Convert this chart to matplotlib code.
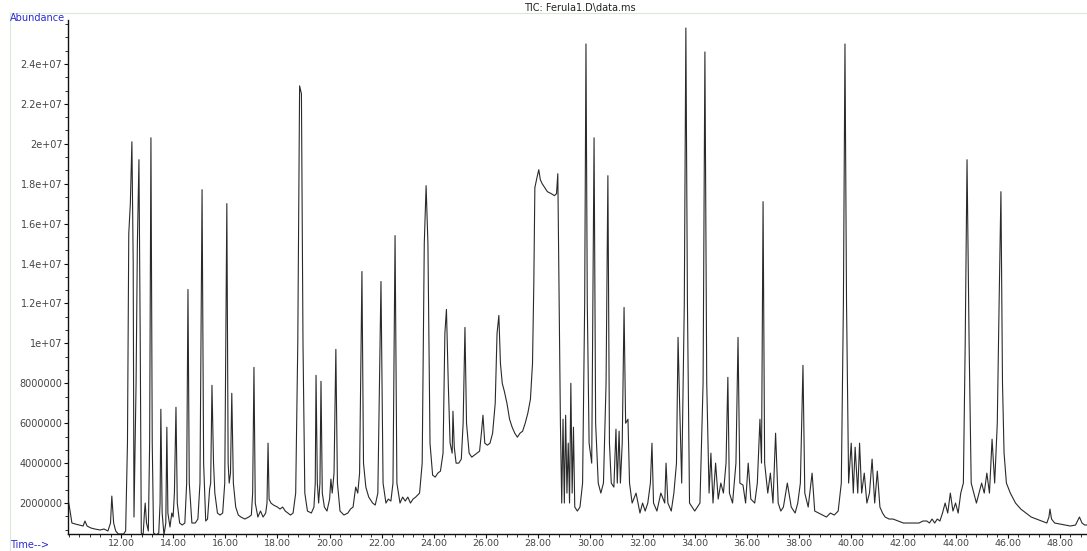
import matplotlib
matplotlib.use("Agg")
import matplotlib.pyplot as plt
from matplotlib.ticker import MultipleLocator, FuncFormatter, AutoMinorLocator
from matplotlib.lines import Line2D

# retention time (min) and abundance (millions)
time_min = [
    9.97, 10.05, 10.12, 10.25, 10.40, 10.55, 10.62, 10.70, 10.85, 11.00, 11.20, 11.35, 11.50, 11.60, 11.65, 11.72, 11.80, 11.90, 12.10, 12.18,
    12.25, 12.30, 12.36, 12.42, 12.47, 12.50, 12.58, 12.63, 12.69, 12.74, 12.78, 12.85, 12.90, 12.93, 12.98, 13.05, 13.10, 13.15, 13.20, 13.25,
    13.35, 13.45, 13.50, 13.53, 13.58, 13.65, 13.72, 13.76, 13.80, 13.88, 13.95, 14.00, 14.05, 14.11, 14.16, 14.25, 14.35, 14.45, 14.52, 14.57,
    14.62, 14.72, 14.85, 14.95, 15.03, 15.11, 15.17, 15.25, 15.32, 15.40, 15.44, 15.49, 15.55, 15.60, 15.70, 15.80, 15.90, 15.98, 16.06, 16.11,
    16.15, 16.20, 16.25, 16.31, 16.40, 16.50, 16.60, 16.75, 16.90, 17.00, 17.05, 17.10, 17.15, 17.25, 17.35, 17.45, 17.55, 17.60, 17.64, 17.68,
    17.75, 17.85, 18.00, 18.10, 18.20, 18.30, 18.40, 18.50, 18.60, 18.70, 18.78, 18.85, 18.92, 18.98, 19.05, 19.15, 19.30, 19.40, 19.45, 19.48,
    19.53, 19.58, 19.63, 19.67, 19.72, 19.80, 19.90, 20.00, 20.05, 20.10, 20.17, 20.24, 20.30, 20.40, 20.55, 20.70, 20.80, 20.90, 21.00, 21.08,
    21.15, 21.24, 21.30, 21.39, 21.50, 21.65, 21.75, 21.85, 21.97, 22.05, 22.16, 22.25, 22.35, 22.43, 22.51, 22.58, 22.70, 22.80, 22.90, 23.00,
    23.10, 23.20, 23.30, 23.45, 23.55, 23.63, 23.70, 23.77, 23.85, 23.95, 24.05, 24.15, 24.25, 24.35, 24.42, 24.48, 24.55, 24.62, 24.70, 24.73,
    24.78, 24.85, 24.95, 25.05, 25.12, 25.19, 25.25, 25.35, 25.45, 25.55, 25.65, 25.75, 25.82, 25.88, 25.95, 26.05, 26.15, 26.25, 26.35, 26.42,
    26.49, 26.55, 26.62, 26.70, 26.80, 26.90, 27.00, 27.10, 27.20, 27.30, 27.40, 27.50, 27.60, 27.70, 27.78, 27.83, 27.87, 27.95, 28.02, 28.08,
    28.15, 28.25, 28.35, 28.50, 28.62, 28.70, 28.75, 28.80, 28.85,
    28.90, 28.95, 29.00, 29.05, 29.10, 29.15, 29.20, 29.25, 29.30, 29.35, 29.40, 29.50, 29.60, 29.70, 29.78, 29.83, 29.88, 29.95, 30.05, 30.14,
    30.20, 30.30, 30.40, 30.50, 30.60, 30.67, 30.73, 30.80, 30.90, 30.98, 31.03, 31.10, 31.15, 31.22, 31.29, 31.35, 31.44, 31.50, 31.60, 31.75,
    31.90, 32.00, 32.10, 32.20, 32.30, 32.36, 32.42, 32.55, 32.70, 32.85, 32.90, 32.97, 33.10, 33.20, 33.30, 33.36, 33.42, 33.50, 33.60, 33.66,
    33.72, 33.80, 33.90, 34.00, 34.10, 34.20, 34.32, 34.39, 34.46, 34.55, 34.62, 34.70, 34.80, 34.90, 35.00, 35.10, 35.20, 35.27, 35.33, 35.45,
    35.58, 35.66, 35.73, 35.85, 35.95, 36.05, 36.15, 36.30, 36.40, 36.50, 36.56, 36.62, 36.68, 36.80, 36.90, 37.00, 37.10, 37.20, 37.30, 37.40,
    37.55, 37.70, 37.85, 37.95, 38.05, 38.15, 38.22, 38.35, 38.50, 38.60, 38.75, 38.90, 39.05, 39.20, 39.35, 39.50, 39.62, 39.70, 39.76, 39.82,
    39.90, 40.00, 40.08, 40.15, 40.25, 40.32, 40.40, 40.50, 40.60, 40.70, 40.80, 40.90, 41.00, 41.10, 41.20, 41.30, 41.45, 41.60, 41.80, 42.00,
    42.20, 42.40, 42.60, 42.75, 42.90, 43.00, 43.10, 43.20, 43.30, 43.40, 43.50, 43.60, 43.70, 43.80, 43.90, 44.00, 44.10, 44.20, 44.30, 44.37,
    44.44, 44.52, 44.60, 44.70, 44.80, 44.90, 45.00, 45.10, 45.20, 45.30, 45.40, 45.50, 45.60, 45.67, 45.74, 45.80, 45.86, 45.95, 46.10, 46.30,
    46.50, 46.70, 46.90, 47.10, 47.30, 47.50, 47.58, 47.62, 47.68, 47.80, 48.00, 48.20, 48.40, 48.60, 48.75, 48.85, 48.95, 49.04,
]
abundance_m = [
    2.20, 1.60, 1.00, 0.95, 0.90, 0.85, 1.10, 0.85, 0.75, 0.70, 0.65, 0.70, 0.60, 1.00, 2.35, 1.00, 0.60, 0.45, 0.45, 0.60,
    5.00, 15.5, 17.0, 20.1, 14.0, 1.30, 8.00, 15.0, 19.2, 10.0, 0.50, 0.40, 1.50, 2.00, 1.00, 0.60, 5.00, 20.3, 5.00, 0.50,
    0.40, 0.50, 2.00, 6.70, 1.50, 0.40, 1.00, 5.80, 1.50, 0.80, 1.50, 1.30, 2.50, 6.80, 2.00, 1.00, 0.90, 1.00, 3.00, 12.7,
    3.00, 1.00, 1.00, 1.20, 3.00, 17.7, 4.00, 1.10, 1.20, 2.70, 3.00, 7.90, 4.00, 2.50, 1.50, 1.40, 1.50, 3.00, 17.0, 4.00,
    3.00, 3.50, 7.50, 3.00, 1.80, 1.40, 1.30, 1.20, 1.30, 1.40, 2.50, 8.80, 2.00, 1.30, 1.60, 1.30, 1.50, 2.00, 5.00, 2.20,
    2.00, 1.90, 1.80, 1.70, 1.80, 1.60, 1.50, 1.40, 1.50, 2.50, 10.0, 22.9, 22.5, 10.0, 2.50, 1.60, 1.50, 1.80, 3.00, 8.40,
    3.00, 2.00, 3.00, 8.10, 2.50, 1.80, 1.60, 2.20, 3.20, 2.50, 3.50, 9.70, 3.00, 1.60, 1.40, 1.50, 1.70, 1.80, 2.80, 2.50,
    3.50, 13.6, 4.00, 2.80, 2.30, 2.00, 1.90, 2.50, 13.1, 3.00, 2.00, 2.20, 2.10, 3.00, 15.4, 3.00, 2.00, 2.30, 2.10, 2.30,
    2.00, 2.20, 2.30, 2.50, 4.00, 15.0, 17.9, 15.0, 5.00, 3.40, 3.30, 3.50, 3.60, 4.50, 10.5, 11.7, 8.00, 5.00, 4.50, 6.60,
    4.80, 4.00, 4.00, 4.20, 6.00, 10.8, 6.00, 4.50, 4.30, 4.40, 4.50, 4.60, 5.50, 6.40, 5.00, 4.90, 5.00, 5.50, 7.00, 10.5,
    11.4, 9.00, 8.00, 7.60, 7.00, 6.20, 5.80, 5.50, 5.30, 5.50, 5.60, 6.00, 6.50, 7.20, 9.00, 13.0, 17.8, 18.3, 18.7, 18.2,
    18.0, 17.8, 17.6, 17.5, 17.4, 17.5, 18.5, 12.0, 6.00,
    2.00, 6.20, 2.00, 6.40, 2.50, 5.00, 2.00, 8.00, 2.50, 5.80, 1.80, 1.60, 1.80, 3.00, 12.0, 25.0, 12.0, 5.00, 4.00, 20.3,
    6.00, 3.00, 2.50, 3.00, 8.00, 18.4, 5.00, 3.00, 2.80, 5.70, 3.00, 5.60, 3.00, 5.00, 11.8, 6.00, 6.20, 3.00, 2.00, 2.50,
    1.50, 2.00, 1.60, 2.00, 3.00, 5.00, 2.00, 1.60, 2.50, 2.00, 4.00, 2.00, 1.60, 2.50, 4.00, 10.3, 7.00, 3.00, 12.0, 25.8,
    12.0, 2.00, 1.80, 1.60, 1.80, 2.00, 8.00, 24.6, 8.00, 2.50, 4.50, 2.00, 4.00, 2.20, 3.00, 2.50, 4.00, 8.30, 2.50, 2.00,
    4.00, 10.3, 3.00, 2.90, 2.00, 4.00, 2.20, 2.00, 3.00, 6.20, 4.00, 17.1, 4.00, 2.50, 3.50, 2.00, 5.50, 2.00, 1.60, 1.80,
    3.00, 1.80, 1.50, 2.00, 3.00, 8.90, 2.50, 1.80, 3.50, 1.60, 1.50, 1.40, 1.30, 1.50, 1.40, 1.60, 3.00, 12.0, 25.0, 12.0,
    3.00, 5.00, 2.50, 4.80, 2.50, 5.00, 2.50, 3.50, 2.00, 2.50, 4.20, 2.00, 3.60, 1.80, 1.50, 1.30, 1.20, 1.20, 1.10, 1.00,
    1.00, 1.00, 1.00, 1.10, 1.10, 1.00, 1.20, 1.00, 1.20, 1.10, 1.50, 2.00, 1.50, 2.50, 1.60, 2.00, 1.50, 2.50, 3.00, 10.0,
    19.2, 10.0, 3.00, 2.50, 2.00, 2.50, 3.00, 2.50, 3.50, 2.50, 5.20, 3.00, 6.00, 12.0, 17.6, 8.00, 4.50, 3.00, 2.50, 2.00,
    1.70, 1.50, 1.30, 1.20, 1.10, 1.00, 1.30, 1.70, 1.20, 1.00, 0.95, 0.90, 0.85, 0.90, 1.30, 1.00, 0.90, 0.90,
]

x_tick_values = [12, 14, 16, 18, 20, 22, 24, 26, 28, 30, 32, 34, 36, 38, 40, 42, 44, 46, 48]
y_tick_values = [2e6, 4e6, 6e6, 8e6, 1e7, 1.2e7, 1.4e7, 1.6e7, 1.8e7, 2e7, 2.2e7, 2.4e7]
title_text = "TIC: Ferula1.D\\data.ms"

plt.rcParams['font.family'] = ['DejaVu Sans']

fig = plt.figure(figsize=(10.87, 5.51), dpi=100)
ax = fig.add_axes([68 / 1087, 1 - 534 / 551, 1 - 68 / 1087, (534 - 20) / 551])

ax.plot(time_min, [a * 1e6 for a in abundance_m], color="#2a2a2a", lw=0.8)

ax.set_xlim(9.97, 49.04)
ax.set_ylim(0.45e6, 26.2e6)

for s in ["top", "right"]:
    ax.spines[s].set_visible(False)
for s in ["left", "bottom"]:
    ax.spines[s].set_color("#111111")
    ax.spines[s].set_linewidth(1.0)

def yfmt(v, pos):
    if v >= 1e7:
        s = "%g" % (v / 1e7)
        return "%se+07" % s
    return "%d" % int(round(v))

ax.set_yticks(y_tick_values)
ax.yaxis.set_major_formatter(FuncFormatter(yfmt))
ax.yaxis.set_minor_locator(AutoMinorLocator(3))
ax.set_xticks(x_tick_values)
ax.set_xticklabels(["%.2f" % v for v in x_tick_values])
ax.xaxis.set_minor_locator(MultipleLocator(0.4))

ax.tick_params(axis="both", which="major", labelsize=7, colors="#111111", labelcolor="#444444", length=3, width=0.8, pad=1)
ax.tick_params(axis="both", which="minor", length=2, width=0.6, colors="#111111")
ax.tick_params(axis="x", which="major", labelsize=6.8, pad=0.5)

fig.text(580 / 1087, 1 - 8 / 551, title_text, ha="center", va="center", fontsize=7, color="#222222")
fig.text(10 / 1087, 1 - 18 / 551, "Abundance", ha="left", va="center", fontsize=7, color="#2a2ad0")
fig.text(10 / 1087, 1 - 545 / 551, "Time-->", ha="left", va="center", fontsize=7, color="#2a2ad0")

# light green frame lines
fig.add_artist(Line2D([10 / 1087, 1.0], [1 - 13 / 551, 1 - 13 / 551], color="#d5ebd5", lw=0.8, transform=fig.transFigure))
fig.add_artist(Line2D([10 / 1087, 10 / 1087], [1 - 13 / 551, 0.0], color="#d5ebd5", lw=0.8, transform=fig.transFigure))

fig.savefig("out.png", dpi=100)
